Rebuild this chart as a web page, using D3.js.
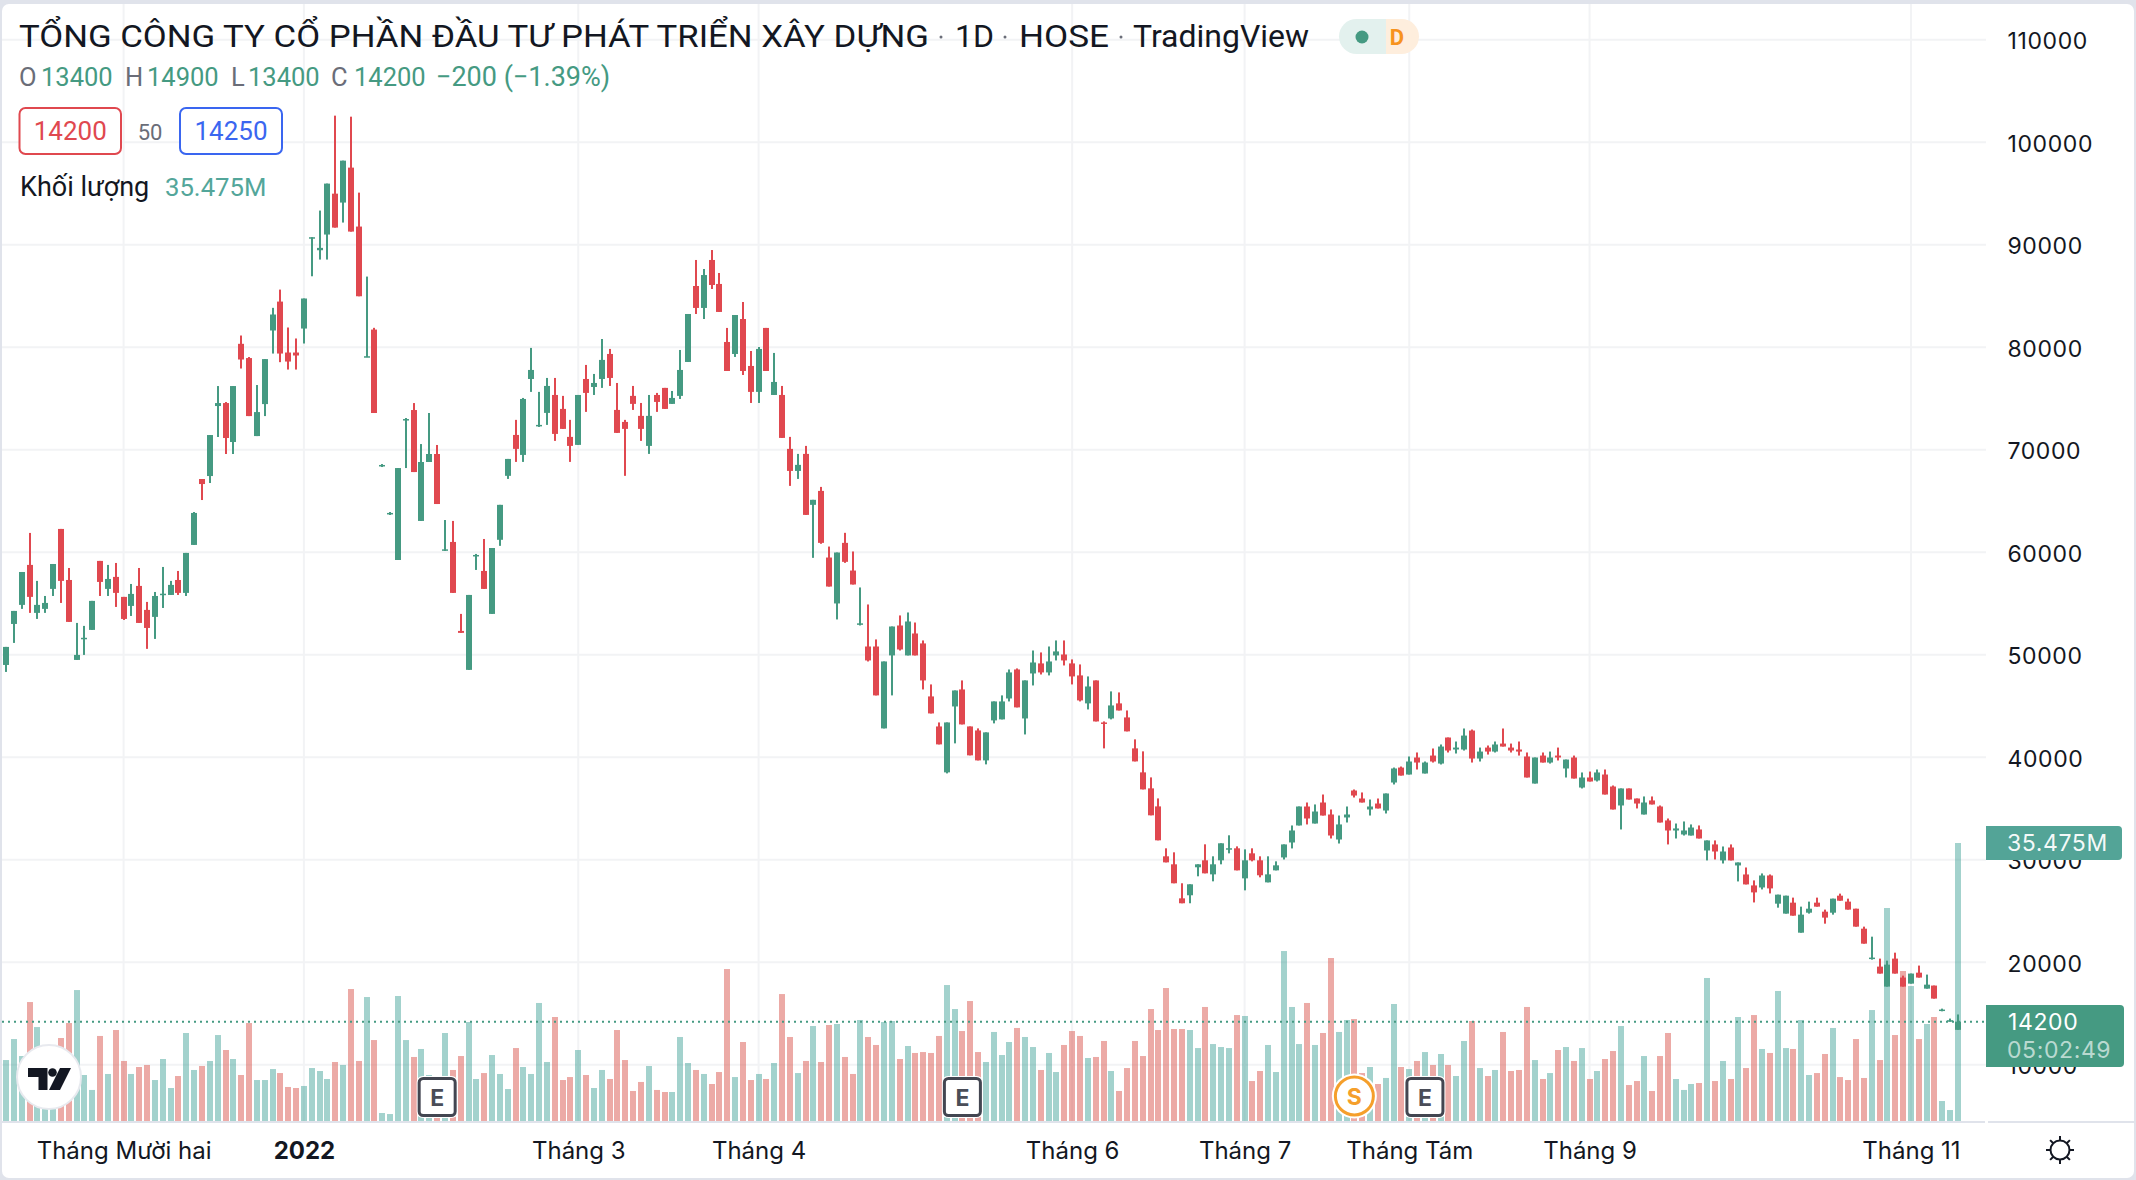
<!DOCTYPE html>
<html><head><meta charset="utf-8">
<script src="https://cdn.jsdelivr.net/npm/d3@7"></script>
<style>
html,body{margin:0;padding:0;background:#e0e3eb;width:2136px;height:1180px;overflow:hidden}
svg{display:block}
text{font-family:Roboto,sans-serif}
</style></head><body>
<svg id="c" width="2136" height="1180"></svg>
<script>
const opens=[49000,53000,54860,58760,54080,54470,56420,62270,57290,49490,51550,52420,59150,56420,57590,55640,54760,56710,54370,53690,55850,55830,57290,56030,60710,67140,67430,74260,74550,70750,80330,78940,71330,74450,81630,84450,79480,79480,81820,90630,89460,90990,94980,94110,97520,91770,79030,81720,68410,63730,59240,72890,73870,63050,68800,69580,60180,61000,52320,48520,59630,58170,53980,61210,67450,71440,69490,76900,72320,73590,75340,73980,71250,70470,76900,76120,76900,79340,73880,72710,75250,73300,70370,75340,76030,74470,75250,78560,85970,83830,88510,86170,80510,79340,82750,78170,75640,81880,75340,75340,70080,67930,69590,64620,65980,59480,55000,60910,58210,52960,50800,50800,42810,49930,52850,49930,52070,51100,45930,43000,38520,44950,46610,43000,42610,39690,43590,43690,45730,48560,43780,48170,49150,48270,49930,50020,49150,47980,45250,47490,43390,43780,45250,43880,40860,38520,36960,35200,30330,29550,26230,26530,29260,29940,28570,29940,31030,31110,28180,30620,29940,27790,28960,30220,31680,33340,35190,33530,35580,34410,31970,34120,36750,35970,34900,35480,34800,37530,38990,38310,39970,38410,40160,39380,41920,40750,40750,42600,39870,40940,40550,41330,40940,40750,40070,37430,40160,39480,40160,38900,39970,37040,38020,37730,38310,37140,35290,36950,35970,34410,35780,35190,33830,32850,32460,32360,32950,30900,31490,29930,31190,29440,28560,27490,27290,28460,25710,24740,25810,22880,24830,25810,24930,24830,26490,25910,25220,23270,20350,19570,17620,20350,18500,17910,18980,17420,17720,15310,14200,13400];
const closes=[50760,54270,58070,55640,54860,55050,58850,57200,53200,49980,51650,55250,57100,57390,56030,53490,55930,53100,52610,55730,55950,56810,56030,59930,63830,66650,71430,74550,71140,76210,78800,73280,73670,78840,83190,79380,78600,79190,84750,90730,89690,95960,91670,98200,91280,84970,79120,73580,68510,63830,68210,72990,67820,68800,69580,64700,60280,56030,52130,55830,59730,56420,60410,64620,69100,70080,74950,77780,72420,76220,71540,72030,70370,75340,75540,76510,78760,77000,71640,72030,74470,72030,73300,74660,73980,75050,77780,83240,83830,87040,86070,83440,77680,83140,77680,75640,79830,77680,76610,71150,67930,68520,63640,65110,60910,56650,59970,59060,56850,53060,49440,46030,49340,52750,50510,53240,49930,47490,44270,41250,43390,46510,43200,40180,39690,42420,45440,45440,48270,44860,47490,49240,48270,49340,50320,49440,47880,45540,46900,43490,43300,45050,44560,42520,39590,36860,34330,31890,29740,27700,25750,27600,29550,28670,29550,31600,31120,28960,29940,29940,28480,28570,29450,31490,32850,35190,34020,34700,34310,32360,33440,34410,36260,35580,35190,35000,36460,38900,38210,39580,39480,39480,39580,41040,40650,40940,42110,39870,40550,40550,41240,41040,40650,40550,38020,39970,39480,39970,39970,39770,37920,38020,37630,38510,36360,34900,36950,35870,35480,35580,35390,33630,32850,33050,32850,33140,32070,31880,30800,30800,29930,29730,27590,26810,28460,27200,26590,26490,24540,24640,25220,25420,24350,26200,26000,25130,23470,21810,20450,18890,19760,18890,17620,18890,18500,17810,16450,15380,14340,14200];
const highs=[50760,54270,58070,61880,57200,55730,58850,62270,58460,53100,52810,55250,59150,58760,58950,55640,56900,58460,55150,56120,58560,57200,58170,59930,63920,67140,71430,76210,74650,76210,81140,79040,76310,78840,83840,85620,81920,80850,84750,90730,93330,95960,102590,98200,102490,95080,86890,81890,68600,63920,68210,73090,74550,70550,73580,70460,63140,63050,53980,55830,59830,61290,60410,64620,69100,72910,75050,79930,75640,77000,77000,75250,72910,75340,78270,77390,80800,79830,76510,72910,76220,74560,75340,75540,76030,75730,79730,83240,88510,87630,89480,87240,81880,83140,84410,79630,80020,81880,79440,76220,71250,69590,70370,65110,66370,60550,59970,61890,60070,56560,54900,51490,49340,52750,53830,54120,53140,51390,47100,43390,43390,46510,47490,43000,42810,42420,45440,46030,48560,48660,47490,50410,50220,50800,51390,51390,49540,49050,47880,47490,43490,46420,46320,44560,41740,40570,38030,35980,31110,30720,27700,27600,29550,31500,30330,31600,32380,31300,31010,31110,30330,30330,29840,31490,33340,35190,35580,35390,36360,34900,34310,35190,36850,36560,35870,35970,36460,38990,39090,40070,40460,39580,40850,41240,41920,41530,42800,42700,40940,41140,41530,42800,41330,41530,40460,39970,40460,40550,40940,39770,40160,38510,38600,38800,38800,37240,36950,36950,35970,36170,36170,35290,34020,33530,33730,33440,33340,31880,31880,31290,31490,29730,29240,27980,28660,28560,26590,26490,26300,25420,25910,26300,25130,26200,26690,26200,25220,23470,22490,20350,20150,20930,18690,18890,19670,18790,17720,15470,14500,14900];
const lows=[48320,51150,54470,54080,53490,54080,55730,55050,53200,49490,49980,52420,55730,55730,54660,53390,53780,53100,50570,51540,54560,55830,55830,55730,60710,65090,66750,71240,69580,69580,77920,73280,71330,73280,79380,78540,77820,77820,80360,86920,88550,88550,91670,92160,91280,84970,79030,73580,68310,63630,59240,68210,67820,63050,68800,64700,60120,56030,52130,48520,58270,56420,53980,60620,67150,68810,68810,75640,72220,72420,70860,72030,68810,70470,73690,75340,76030,76220,71640,67450,73880,70860,69590,73690,73980,74470,74950,78560,83240,82750,85680,83440,77680,79050,77290,74560,74560,77680,75340,71150,66470,67150,63640,59450,60820,56650,53440,58960,56850,52850,49340,46030,42810,46030,50410,49930,49930,46610,44270,41250,38420,41350,43200,40180,39690,39300,43300,43690,45440,44860,42220,47000,48070,47980,49440,48950,47100,45440,44660,43490,40860,43690,44560,42520,39590,36860,34330,31890,29740,27700,25750,25750,28380,28670,27890,29550,30620,28960,27010,29840,28280,27790,28960,30020,31100,33340,33440,33530,34310,32070,31580,33630,36070,35580,34310,35000,34510,37340,38210,38310,38800,38410,39480,39290,40460,40360,40650,39480,39580,40260,40460,41040,40460,40160,38020,37430,39480,39380,39680,38020,37920,36950,37630,37630,36360,34900,32950,35870,35000,34410,35390,33630,31490,32070,32360,32360,32070,29930,30020,29630,29930,27880,27590,25830,27100,26710,25320,24740,24540,22880,24740,25420,23760,24640,26000,25130,23470,21810,20250,18890,17620,18890,17620,17910,18500,17420,16450,15210,14200,13400];
const volumes=[7.78,10.46,8.29,15.18,11.99,4.38,4.81,10.59,12.50,16.71,5.87,3.96,10.85,6.00,11.61,7.66,6.00,6.89,7.15,5.23,7.91,4.21,5.74,11.23,6.51,7.02,7.66,10.97,9.06,7.91,5.87,12.50,5.23,5.23,6.63,6.12,4.34,4.21,4.47,6.76,6.38,5.36,7.53,7.15,16.84,7.66,15.82,10.33,1.02,0.89,15.95,10.33,8.17,9.19,5.87,4.81,11.23,6.51,8.29,12.63,5.36,6.12,8.42,6.00,4.08,9.31,6.89,6.00,15.06,7.53,13.27,5.23,5.61,9.06,5.87,4.21,6.51,5.36,11.61,7.78,3.83,4.98,7.02,3.96,3.70,3.70,10.72,7.40,6.51,6.00,4.72,6.25,19.39,5.61,10.08,5.23,6.00,5.36,7.40,16.20,10.72,6.12,7.66,12.12,7.53,12.25,12.38,8.17,6.00,12.89,10.72,9.70,12.63,12.76,7.91,9.57,8.68,8.80,8.68,10.85,17.35,14.29,11.48,15.31,8.80,7.53,11.36,8.42,10.08,11.87,10.72,9.44,6.51,8.68,6.25,9.70,11.48,10.85,8.04,8.17,10.21,6.38,3.83,6.76,10.21,8.29,14.29,11.61,16.97,11.74,11.74,11.61,9.31,14.55,9.82,9.44,9.31,13.52,13.40,5.10,6.38,9.70,6.25,21.69,14.55,9.82,15.06,9.70,11.23,20.80,11.36,12.89,13.01,6.12,6.89,4.72,5.49,14.93,6.89,6.63,7.66,8.80,7.15,8.55,7.15,5.74,10.21,12.76,6.76,5.74,6.51,11.36,6.38,6.51,14.55,7.78,5.36,6.12,9.06,9.44,7.66,9.31,5.36,6.38,7.91,8.93,12.12,4.59,5.10,8.29,3.83,8.29,11.23,5.36,3.96,4.72,4.85,18.25,5.10,7.66,5.36,13.27,6.76,13.52,9.19,8.68,16.59,9.31,9.19,12.89,5.87,6.12,8.55,11.87,5.61,5.23,10.46,5.49,14.16,7.78,27.18,10.97,19.14,17.22,10.46,12.38,13.27,2.55,1.40,35.475];
const priceTicks=[110000,100000,90000,80000,70000,60000,50000,40000,30000,20000,10000];
const timeTickIndex=[15,38,73,96,136,158,179,202,243];
const timeTickLabels=["Tháng Mười hai","2022","Tháng 3","Tháng 4","Tháng 6","Tháng 7","Tháng Tám","Tháng 9","Tháng 11"];
const earningsIndex=[55,122,181];
const splitIndex=[172];
const lastClose=14200;
const lastVolumeLabel="35.475M";
const titleParts=[["TỔNG CÔNG TY CỔ PHẦN ĐẦU TƯ PHÁT TRIỂN XÂY DỰNG",19,910],["1D",955,39],["HOSE",1019,90],["TradingView",1133,176]];

const UP="#459a82",DOWN="#e0484f",INK="#131722",GREY="#6a6d78",LINE="#e0e3eb";
const W=1986,B=1122;
const svg=d3.select("#c");
svg.append("rect").attr("x",2).attr("y",4).attr("width",2132).attr("height",1174).attr("rx",7).attr("fill","#fff");
const defs=svg.append("defs");
defs.append("clipPath").attr("id","plot").append("rect").attr("x",2).attr("y",4).attr("width",W-2).attr("height",B-4);

const x=d3.scaleLinear().domain([0,249]).range([6,1958]);
const y=d3.scaleLinear().domain([10000,110000]).range([1064.7,39.7]);
const v=d3.scaleLinear().domain([0,35.475]).range([1121,843]);
const idx=d3.range(opens.length);
const col=i=>closes[i]>=opens[i]?UP:DOWN;

const plot=svg.append("g").attr("clip-path","url(#plot)");
// grid
plot.append("g").selectAll("line").data(priceTicks).join("line")
 .attr("x1",2).attr("x2",W).attr("y1",d=>y(d)).attr("y2",d=>y(d)).attr("stroke","#f2f3f5").attr("stroke-width",2);
plot.append("g").selectAll("line").data(timeTickIndex).join("line")
 .attr("x1",d=>x(d)).attr("x2",d=>x(d)).attr("y1",4).attr("y2",B).attr("stroke","#f2f3f5").attr("stroke-width",2);
// volume
plot.append("g").selectAll("rect").data(idx).join("rect")
 .attr("x",i=>Math.round(x(i)-3)).attr("width",6)
 .attr("y",i=>v(volumes[i])).attr("height",i=>v(0)-v(volumes[i]))
 .attr("fill",i=>closes[i]>=opens[i]?"rgba(50,155,145,.45)":"rgba(217,85,77,.5)");
// price line
plot.append("line").attr("x1",2).attr("x2",W).attr("y1",y(lastClose)).attr("y2",y(lastClose))
 .attr("stroke",UP).attr("stroke-width",2).attr("stroke-dasharray","2 4");
// wicks
plot.append("g").selectAll("rect").data(idx).join("rect")
 .attr("x",i=>Math.round(x(i)-1)).attr("width",2)
 .attr("y",i=>y(highs[i])).attr("height",i=>y(lows[i])-y(highs[i])).attr("fill",col);
// bodies
plot.append("g").selectAll("rect").data(idx).join("rect")
 .attr("x",i=>Math.round(x(i)-3)).attr("width",6)
 .attr("y",i=>y(Math.max(opens[i],closes[i])))
 .attr("height",i=>Math.max(1.5,y(Math.min(opens[i],closes[i]))-y(Math.max(opens[i],closes[i]))))
 .attr("fill",col);

// axes
const ay=svg.append("g").attr("transform",`translate(${W},0)`).call(d3.axisRight(y).tickValues(priceTicks).tickFormat(d3.format("d")).tickSize(0).tickPadding(21.5));
ay.select(".domain").remove();
ay.selectAll("text").style("font-family","Inter").style("font-size","23px").style("letter-spacing","0.6px").attr("dy","0.4em").attr("fill",INK);
const ax=svg.append("g").attr("transform",`translate(0,${B})`).call(d3.axisBottom(x).tickValues(timeTickIndex).tickFormat((d,i)=>timeTickLabels[i]).tickSize(0).tickPadding(20));
ax.select(".domain").remove();
ax.selectAll("text").style("font-family","Inter").style("font-size","24px").attr("fill",INK)
 .style("font-weight",(d,i)=>timeTickLabels[i]==="2022"?"700":"400");
svg.append("line").attr("x1",2).attr("x2",W-1).attr("y1",B).attr("y2",B).attr("stroke",LINE).attr("stroke-width",2);
svg.append("line").attr("x1",W+2).attr("x2",2134).attr("y1",B).attr("y2",B).attr("stroke",LINE).attr("stroke-width",2);

// legend
const T=(s,px,py,size,fill,extra={})=>{const t=svg.append("text").attr("x",px).attr("y",py).text(s).style("font-size",size+"px").attr("fill",fill);
 for(const k in extra)t.style(k,extra[k]);return t;};
titleParts.forEach(p=>T(p[0],p[1],47,31,INK).attr("textLength",p[2]).attr("lengthAdjust","spacingAndGlyphs"));
[941,1005,1121].forEach(cx=>svg.append("circle").attr("cx",cx).attr("cy",37).attr("r",1.5).attr("fill",GREY));
// status pill
svg.append("path").attr("d","M1386 19H1356.5a17.5 17.5 0 0 0 0 35H1386Z").attr("fill","#e3f1ee");
svg.append("path").attr("d","M1386 19H1401.5a17.5 17.5 0 0 1 0 35H1386Z").attr("fill","#feeedd");
svg.append("circle").attr("cx",1362).attr("cy",37).attr("r",6.5).attr("fill",UP);
T("D",1397,45,22,"#f7931e",{"font-weight":"700","text-anchor":"middle"});

const OHLC=[["O",19,"13400",41],["H",125,"14900",147],["L",231,"13400",248],["C",331,"14200",354]];
OHLC.forEach(r=>{T(r[0],r[1],86,25.5,GREY);T(r[2],r[3],86,25.5,UP);});
T("−200 (−1.39%)",436,86,27,UP);

const box=(x0,x1,c,s)=>{svg.append("rect").attr("x",x0).attr("y",108).attr("width",x1-x0).attr("height",46).attr("rx",6).attr("fill","#fff").attr("stroke",c).attr("stroke-width",2);
 T(s,(x0+x1)/2,140,26,c,{"text-anchor":"middle"});};
box(19.5,121,DOWN,"14200");
box(180,282,"#3a66f0","14250");
T("50",150,140,22,GREY,{"text-anchor":"middle"});
T("Khối lượng",20,196,27,INK);
T(lastVolumeLabel,165,196,25.7,"#53a69a");

// price labels
svg.append("path").attr("d",`M${W} 826H2118a4 4 0 0 1 4 4V856a4 4 0 0 1 -4 4H${W}Z`).attr("fill","#53a497");
T(lastVolumeLabel,2007,851,23,"#fff",{"font-family":"Inter","letter-spacing":"0.6px"}).attr("fill-opacity",.95);
svg.append("path").attr("d",`M${W} 1005H2120a4 4 0 0 1 4 4V1063a4 4 0 0 1 -4 4H${W}Z`).attr("fill",UP);
T(d3.format("d")(lastClose),2008,1030,23,"#fff",{"font-family":"Inter","letter-spacing":"0.6px"});
T("05:02:49",2007,1058,23,"rgba(255,255,255,.65)",{"font-family":"Inter","letter-spacing":"0.6px"});

// gear
const gear=svg.append("g").attr("transform","translate(2060,1150)").attr("fill","none").attr("stroke",INK).attr("stroke-width",2);
gear.append("circle").attr("r",9.5);
d3.range(8).forEach(k=>{const a=k*Math.PI/4;gear.append("line").attr("x1",9.5*Math.cos(a)).attr("y1",9.5*Math.sin(a)).attr("x2",14*Math.cos(a)).attr("y2",14*Math.sin(a));});

// markers
earningsIndex.forEach(i=>{const g=svg.append("g").attr("transform",`translate(${x(i)},1097)`);
 g.append("rect").attr("x",-20.5).attr("y",-21).attr("width",41).attr("height",42).attr("rx",6).attr("fill","#fff");
 g.append("rect").attr("x",-18).attr("y",-18.5).attr("width",36).attr("height",37).attr("rx",4).attr("fill","#fff").attr("stroke","#434651").attr("stroke-width",3);
 g.append("text").attr("text-anchor","middle").attr("y",8.5).text("E").attr("fill","#4a4d58").style("font-size","23px").style("font-weight","700").style("font-family","Inter");
});
splitIndex.forEach(i=>{const g=svg.append("g").attr("transform",`translate(${x(i)},1096)`);
 g.append("circle").attr("r",22.5).attr("fill","#fff");
 g.append("circle").attr("r",19).attr("fill","#fff").attr("stroke","#f59f2b").attr("stroke-width",3);
 g.append("text").attr("text-anchor","middle").attr("y",8.5).text("S").attr("fill","#f59f2b").style("font-size","23px").style("font-weight","700").style("font-family","Inter");
});
// TV logo
const lg=svg.append("g");
lg.append("circle").attr("cx",49).attr("cy",1077).attr("r",32).attr("fill","#fff").attr("stroke","#e8eaef").attr("stroke-width",2);
lg.append("path").attr("d","M28 1068H47.5V1090H38.5V1077H28Z").attr("fill",INK);
lg.append("circle").attr("cx",52.5).attr("cy",1072.5).attr("r",4.3).attr("fill",INK);
lg.append("path").attr("d","M60 1068H71L60 1090H49Z").attr("fill",INK);
</script>
</body></html>
